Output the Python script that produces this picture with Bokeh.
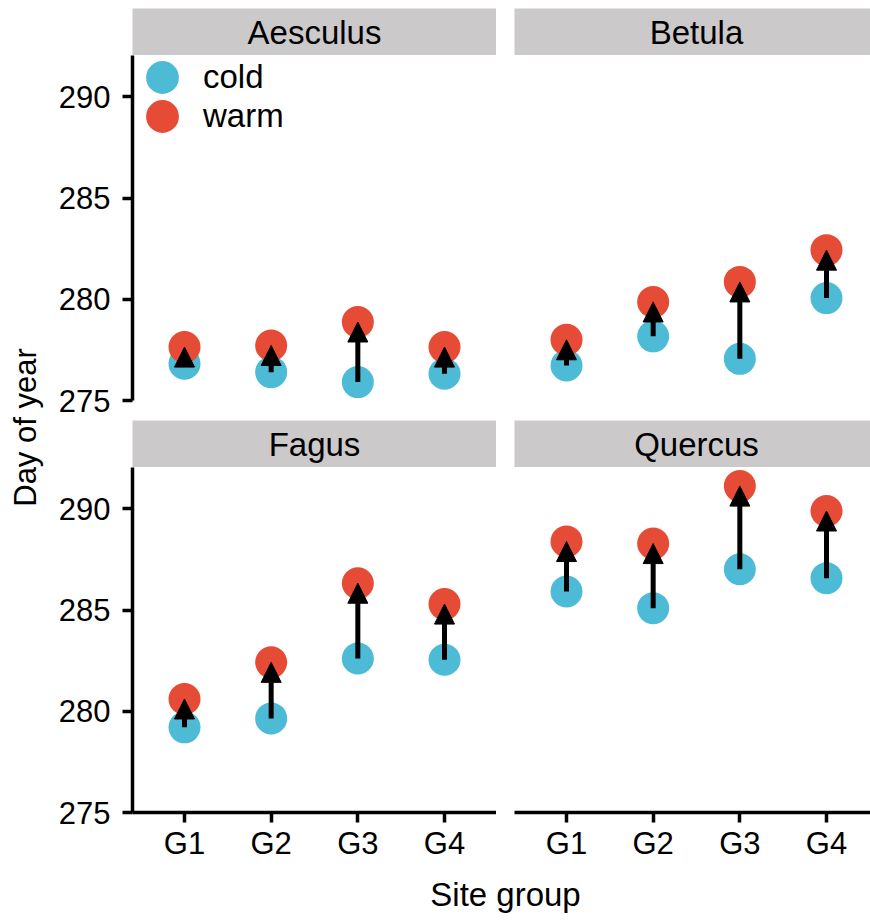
from bokeh.plotting import figure
from bokeh.layouts import row, column
from bokeh.models import (Range1d, FixedTicker, LinearAxis, Arrow, NormalHead,
                          ColumnDataSource, Legend, LegendItem, Spacer)
from bokeh.core.properties import value
from bokeh.embed import file_html
from bokeh.resources import INLINE

# ---------------- data ----------------
species = ["Aesculus", "Betula", "Fagus", "Quercus"]
site_groups = ["G1", "G2", "G3", "G4"]
series_labels = ["cold", "warm"]

aesculus_cold = [276.82, 276.40, 275.91, 276.32]
aesculus_warm = [277.64, 277.72, 278.88, 277.64]
betula_cold = [276.73, 278.17, 277.06, 280.06]
betula_warm = [278.00, 279.87, 280.86, 282.43]
fagus_cold = [279.21, 279.65, 282.61, 282.55]
fagus_warm = [280.61, 282.42, 286.33, 285.30]
quercus_cold = [285.92, 285.10, 287.02, 286.58]
quercus_warm = [288.39, 288.29, 291.13, 289.90]

y_ticks = [275, 280, 285, 290]
y_limits = [275, 292.05]
x_title = "Site group"
y_title = "Day of year"

# ---------------- style ----------------
COLD = "#4DBBD5"
WARM = "#E64B35"
STRIP = "#CCC9CA"
FONT = "Liberation Sans"
TICK_FS = "31px"
TEXT_FS = "33px"

x_pos = [i + 1 for i in range(len(site_groups))]
X_START = 0.4
PX_PER_UNIT = 364 / 4.2
LEFT_BORDER = 84
FRAME_H = 345
STRIP_H = 47
TOP_PAD = 8
YT_W = 48


def style_axis(ax):
    ax.axis_line_width = 3.5
    ax.axis_line_color = "black"
    ax.major_tick_line_width = 3.5
    ax.major_tick_line_color = "black"
    ax.major_tick_out = 10
    ax.major_tick_in = 0
    ax.minor_tick_line_color = None
    ax.major_label_text_font = FONT
    ax.major_label_text_font_size = TICK_FS
    ax.major_label_text_color = "black"


def make_strip(name, frame_w):
    x_end = X_START + frame_w / PX_PER_UNIT
    s = figure(width=frame_w, height=STRIP_H, x_range=Range1d(X_START, x_end),
               y_range=Range1d(0, 1), x_axis_type=None, y_axis_type=None,
               toolbar_location=None, output_backend="svg", min_border=0,
               outline_line_color=None, background_fill_color=STRIP,
               border_fill_color=STRIP)
    s.text(x=[(X_START + 4.6) / 2], y=[0.5], text=[name], text_align="center",
           text_baseline="middle", text_font=value(FONT), text_font_size=TEXT_FS,
           text_color="black")
    return s


def make_legend(item_label, renderer, bottom_px):
    return Legend(items=[LegendItem(label=item_label, renderers=[renderer])],
                  location=(-11, bottom_px), glyph_width=82, glyph_height=82,
                  label_height=82, spacing=0, padding=0, margin=0,
                  border_line_color=None, background_fill_alpha=0,
                  label_standoff=-16, label_text_font=FONT,
                  label_text_font_size=TEXT_FS, label_text_color="black")


def make_panel(cold, warm, frame_w, left, bottom_border, legend=False):
    x_end = X_START + frame_w / PX_PER_UNIT
    lb = LEFT_BORDER if left else 0
    p = figure(width=frame_w + lb, height=FRAME_H + bottom_border,
               x_range=Range1d(X_START, x_end), y_range=Range1d(*y_limits),
               x_axis_type=None, y_axis_type=None, toolbar_location=None,
               output_backend="svg", min_border_left=lb, min_border_right=0,
               min_border_top=0, min_border_bottom=bottom_border,
               outline_line_color=None, background_fill_color="white",
               border_fill_color="white")
    if left:
        ya = LinearAxis(ticker=FixedTicker(ticks=y_ticks))
        style_axis(ya)
        ya.major_label_standoff = 12
        p.add_layout(ya, "left")
    if bottom_border > 40:
        xa = LinearAxis(ticker=FixedTicker(ticks=x_pos),
                        major_label_overrides={x: g for x, g in zip(x_pos, site_groups)})
        style_axis(xa)
        xa.major_label_standoff = 3
        p.add_layout(xa, "below")
    src = ColumnDataSource(dict(x=x_pos, cold=cold, warm=warm))
    rc = p.scatter("x", "cold", source=src, size=32, fill_color=COLD, line_color=None)
    rw = p.scatter("x", "warm", source=src, size=32, fill_color=WARM, line_color=None)
    p.add_layout(Arrow(end=NormalHead(size=20, fill_color="black", line_color="black"),
                       x_start="x", y_start="cold", x_end="x", y_end="warm",
                       source=src, line_width=5, line_color="black"))
    if legend:
        p.add_layout(make_legend(series_labels[0], rc, 282))
        p.add_layout(make_legend(series_labels[1], rw, 243))
    return p


LW = 364
RW = 356
GAP = 18

stripA = make_strip(species[0], LW)
stripB = make_strip(species[1], RW)
stripC = make_strip(species[2], LW)
stripD = make_strip(species[3], RW)

pA = make_panel(aesculus_cold, aesculus_warm, LW, True, 20, legend=True)
pB = make_panel(betula_cold, betula_warm, RW, False, 20)
pC = make_panel(fagus_cold, fagus_warm, LW, True, 58)
pD = make_panel(quercus_cold, quercus_warm, RW, False, 58)

grid_w = LEFT_BORDER + LW + GAP + RW
grid = column(
    Spacer(width=grid_w, height=TOP_PAD),
    row(Spacer(width=LEFT_BORDER, height=STRIP_H), stripA, Spacer(width=GAP, height=STRIP_H), stripB),
    row(pA, Spacer(width=GAP, height=FRAME_H + 20), pB),
    row(Spacer(width=LEFT_BORDER, height=STRIP_H), stripC, Spacer(width=GAP, height=STRIP_H), stripD),
    row(pC, Spacer(width=GAP, height=FRAME_H + 58), pD),
)

total_h = TOP_PAD + STRIP_H + FRAME_H + 20 + STRIP_H + FRAME_H + 58

yt = figure(width=YT_W, height=total_h, x_range=Range1d(0, YT_W), y_range=Range1d(0, total_h),
            x_axis_type=None, y_axis_type=None, toolbar_location=None,
            output_backend="svg", min_border=0, outline_line_color=None)
yt.text(x=[25], y=[total_h - 427], text=[y_title], angle=1.5707963, text_align="center",
        text_baseline="middle", text_font=value(FONT), text_font_size="31px",
        text_color="black")

W = YT_W + grid_w
XT_H = 48
xt = figure(width=W, height=XT_H, x_range=Range1d(0, W), y_range=Range1d(0, XT_H),
            x_axis_type=None, y_axis_type=None, toolbar_location=None,
            output_backend="svg", min_border=0, outline_line_color=None)
xt.text(x=[505], y=[XT_H - 24], text=[x_title], text_align="center",
        text_baseline="middle", text_font=value(FONT), text_font_size=TEXT_FS,
        text_color="black")

layout = column(row(yt, grid), xt)

open("out.html", "w").write(file_html(layout, INLINE))
